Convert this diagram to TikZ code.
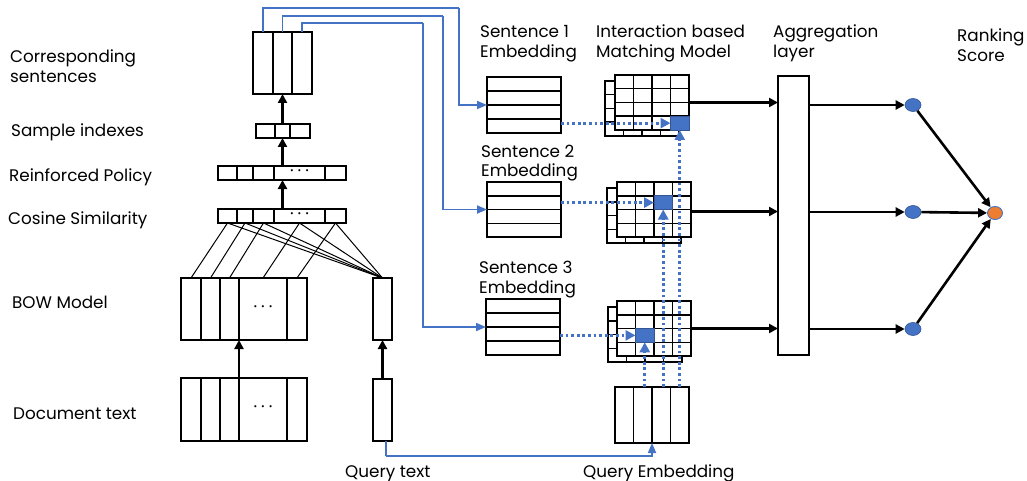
\documentclass[tikz,border=0pt]{standalone}
\usepackage{fontspec}
\setmainfont{Poppins}
\usetikzlibrary{arrows.meta,calc,shapes.geometric}
\definecolor{pblue}{HTML}{4472C4}
\definecolor{porange}{HTML}{ED7D31}
% \mkcell[text]{name}{x1}{x2}{y1}{y2}
\newcommand\mkcell[6][]{\node[cell, minimum width={(#4-#3)*1pt}, minimum height={(#6-#5)*1pt}] (#2) at ({(#3+#4)/2},{(#5+#6)/2}) {#1};}
\newcommand\mkhl[5]{\node[hlcell, minimum width={(#3-#2)*1pt}, minimum height={(#5-#4)*1pt}] (#1) at ({(#2+#3)/2},{(#4+#5)/2}) {};}
\newcommand\mydots{\textperiodcentered\hspace{4pt}\textperiodcentered\hspace{4pt}\textperiodcentered}
\tikzset{
  cell/.style={draw, line width=1.5pt, fill=white, inner sep=0pt, outer sep=0pt, font=\fontsize{17}{17}\selectfont},
  hlcell/.style={draw=pblue!75!black, line width=0.9pt, fill=pblue, inner sep=0pt, outer sep=0pt},
  lbl/.style={anchor=base west, inner sep=0pt, align=left, font=\fontsize{16.8}{20}\selectfont},
  blkarrow/.style={line width=2.6pt, -{Triangle[length=9pt,width=9pt]}},
  bluearrow/.style={pblue, line width=1.7pt, -{Triangle[length=10pt,width=8pt]}},
  blueline/.style={pblue, line width=1.5pt},
  gridline/.style={line width=1.5pt},
  dotarrow/.style={pblue, line width=2.8pt, dash pattern=on 2.8pt off 2.8pt, -{Triangle[length=10pt,width=10pt]}},
  thinline/.style={line width=1pt},
  bdot/.style={ellipse, minimum width=16pt, minimum height=13pt, inner sep=0pt, fill=pblue, draw=pblue!75!black, line width=0.6pt},
  odot/.style={ellipse, minimum width=15pt, minimum height=13pt, inner sep=0pt, fill=porange, draw=pblue, line width=0.9pt},
}
\begin{document}
\begin{tikzpicture}[x=1pt,y=-1pt]
\useasboundingbox (0,0) rectangle (1027,481);

% ---------- labels (base = last line baseline) ----------
\node[lbl] (lcs) at (10,83) {Corresponding\\sentences};
\node[lbl] (lsi) at (11,137) {Sample indexes};
\node[lbl] (lrp) at (9,182) {Reinforced Policy};
\node[lbl] (lcos) at (8,224) {Cosine Similarity};
\node[lbl] (lbow) at (12,308) {BOW Model};
\node[lbl] (ldoc) at (13,419) {Document text};
\node[lbl] (lqt) at (345,477) {Query text};
\node[lbl] (lqe) at (583,477) {Query Embedding};
\node[lbl] (ls1) at (480,58) {Sentence 1\\Embedding};
\node[lbl] (lim) at (596,58) {Interaction based\\Matching Model};
\node[lbl] (ls2) at (481,177) {Sentence 2\\Embedding};
\node[lbl] (ls3) at (479,293) {Sentence 3\\Embedding};
\node[lbl] (lagg) at (773,58) {Aggregation\\layer};
\node[lbl] (lrs) at (957,62) {Ranking\\Score};

% ---------- left column ----------
\mkcell{cs1}{253}{273}{32}{94}
\mkcell{cs2}{273}{292}{32}{94}
\mkcell{cs3}{292}{312}{32}{94}

\mkcell{si1}{256}{275}{124}{138}
\mkcell{si2}{275}{290}{124}{138}
\mkcell{si3}{290}{310}{124}{138}

\mkcell{rp1}{218}{237}{166}{180}
\mkcell{rp2}{237}{253}{166}{180}
\mkcell{rp3}{253}{274}{166}{180}
\mkcell[\mydots]{rp4}{274}{325}{166}{180}
\mkcell{rp5}{325}{346}{166}{180}

\mkcell{cos1}{218}{237}{209}{223}
\mkcell{cos2}{237}{253}{209}{223}
\mkcell{cos3}{253}{274}{209}{223}
\mkcell[\mydots]{cos4}{274}{325}{209}{223}
\mkcell{cos5}{325}{346}{209}{223}

\mkcell{bow1}{181}{201}{278}{340}
\mkcell{bow2}{201}{220}{278}{340}
\mkcell{bow3}{220}{239}{278}{340}
\mkcell[\mydots]{bow4}{239}{287}{278}{340}
\mkcell{bow5}{287}{307}{278}{340}

\mkcell{doc1}{181}{201}{378}{441}
\mkcell{doc2}{201}{220}{378}{441}
\mkcell{doc3}{220}{239}{378}{441}
\mkcell[\mydots]{doc4}{239}{287}{378}{441}
\mkcell{doc5}{287}{307}{378}{441}

\mkcell{qb}{373}{392}{278}{340}
\mkcell{qt}{373}{392}{379}{441}

% arrows in left column
\draw[blkarrow] (doc3.north east) -- (bow3.south east);
\draw[blkarrow] (qt.north) -- (qb.south);
\draw[blkarrow] (cos4.north -| cs2.center) -- (rp4.south -| cs2.center);
\draw[blkarrow] (rp4.north -| cs2.center) -- (si2.south -| cs2.center);
\draw[blkarrow] (si2.north -| cs2.center) -- (cs2.south);

% BOW -> cosine lines
\foreach \i in {1,...,5}{
  \draw[thinline] (bow\i.north) -- (cos\i.south);
  \draw[thinline] (qb.north) -- (cos\i.south);
}

% ---------- sentence embeddings ----------
\mkcell{s1}{487}{561}{77}{133}
\mkcell{s2}{487}{561}{182}{237}
\mkcell{s3}{486}{560}{299}{355}
\foreach \s in {s1,s2,s3}{
  \foreach \f in {0.25,0.5,0.75}{
    \draw[gridline] ($(\s.north west)!\f!(\s.south west)$) -- ($(\s.north east)!\f!(\s.south east)$);
  }
}

% ---------- matching grids ----------
\mkcell{g1b}{605}{679}{81}{136}
\mkcell{g2b}{607}{681}{188}{243}
\mkcell{g3b}{608}{682}{307}{362}
\foreach \g in {g1b,g2b,g3b}{
  \foreach \f in {0.25,0.5,0.75}{
    \draw[gridline] ($(\g.north west)!\f!(\g.south west)$) -- ($(\g.north east)!\f!(\g.south east)$);
    \draw[gridline] ($(\g.north west)!\f!(\g.north east)$) -- ($(\g.south west)!\f!(\g.south east)$);
  }
}
\mkcell{g1}{615}{689}{75}{130}
\mkcell{g2}{617}{691}{182}{237}
\mkcell{g3}{617}{691}{301}{356}
\foreach \g in {g1,g2,g3}{
  \foreach \f in {0.25,0.5,0.75}{
    \draw[gridline] ($(\g.north west)!\f!(\g.south west)$) -- ($(\g.north east)!\f!(\g.south east)$);
    \draw[gridline] ($(\g.north west)!\f!(\g.north east)$) -- ($(\g.south west)!\f!(\g.south east)$);
  }
}
\mkhl{hl1}{670.5}{689}{116.25}{130}
\mkhl{hl2}{654}{672.5}{195.75}{209.5}
\mkhl{hl3}{635.5}{654}{328.5}{342.25}

% ---------- query embedding ----------
\mkcell{qe}{615}{689}{387}{443}
\foreach \f in {0.25,0.5,0.75}{
  \draw[gridline] ($(qe.north west)!\f!(qe.north east)$) -- ($(qe.south west)!\f!(qe.south east)$);
}

% ---------- aggregation ----------
\mkcell{agg}{778}{809}{76}{355}

\node[bdot] (d1) at (913,105) {};
\node[bdot] (d2) at (913,212) {};
\node[bdot] (d3) at (913,329) {};
\node[odot] (o) at (995,213) {};

% ---------- blue routing lines ----------
\coordinate (r1) at (459,8);
\coordinate (r2) at (443,16);
\coordinate (r3) at (423,23);
\draw[blueline] (cs1.north) |- (r1);
\draw[bluearrow] (r1) |- (s1.west);
\draw[blueline] (cs2.north) |- (r2);
\draw[bluearrow] (r2) |- (s2.west);
\draw[blueline] (cs3.north) |- (r3);
\draw[bluearrow] (r3) |- (s3.west);

\coordinate (qcorner) at (386,456);
\draw[blueline] (qt.south -| qcorner) -- (qcorner);
\draw[bluearrow] (qcorner) -| (qe.south);

% ---------- dotted interactions ----------
\draw[dotarrow] (hl1.west -| s1.east) -- (hl1.west);
\draw[dotarrow] (hl2.west -| s2.east) -- (hl2.west);
\draw[dotarrow] (hl3.west -| s3.east) -- (hl3.west);
\draw[dotarrow] (hl1.south |- qe.north) -- (hl1.south);
\draw[dotarrow] (hl2.south |- qe.north) -- (hl2.south);
\draw[dotarrow] (hl3.south |- qe.north) -- (hl3.south);

% ---------- grid -> aggregation -> scores ----------
\draw[blkarrow] (g1.east) -- (g1.east -| agg.west);
\draw[blkarrow] ([yshift=-2pt]g2.east) -- ([yshift=-2pt]g2.east -| agg.west);
\draw[blkarrow] (g3.east) -- (g3.east -| agg.west);
\draw[blkarrow] (d1 -| agg.east) -- (d1.west);
\draw[blkarrow] (d2 -| agg.east) -- (d2.west);
\draw[blkarrow] (d3 -| agg.east) -- (d3.west);
\draw[blkarrow] (d1) -- (o);
\draw[blkarrow] (d2) -- (o);
\draw[blkarrow] (d3) -- (o);
\end{tikzpicture}
\end{document}
